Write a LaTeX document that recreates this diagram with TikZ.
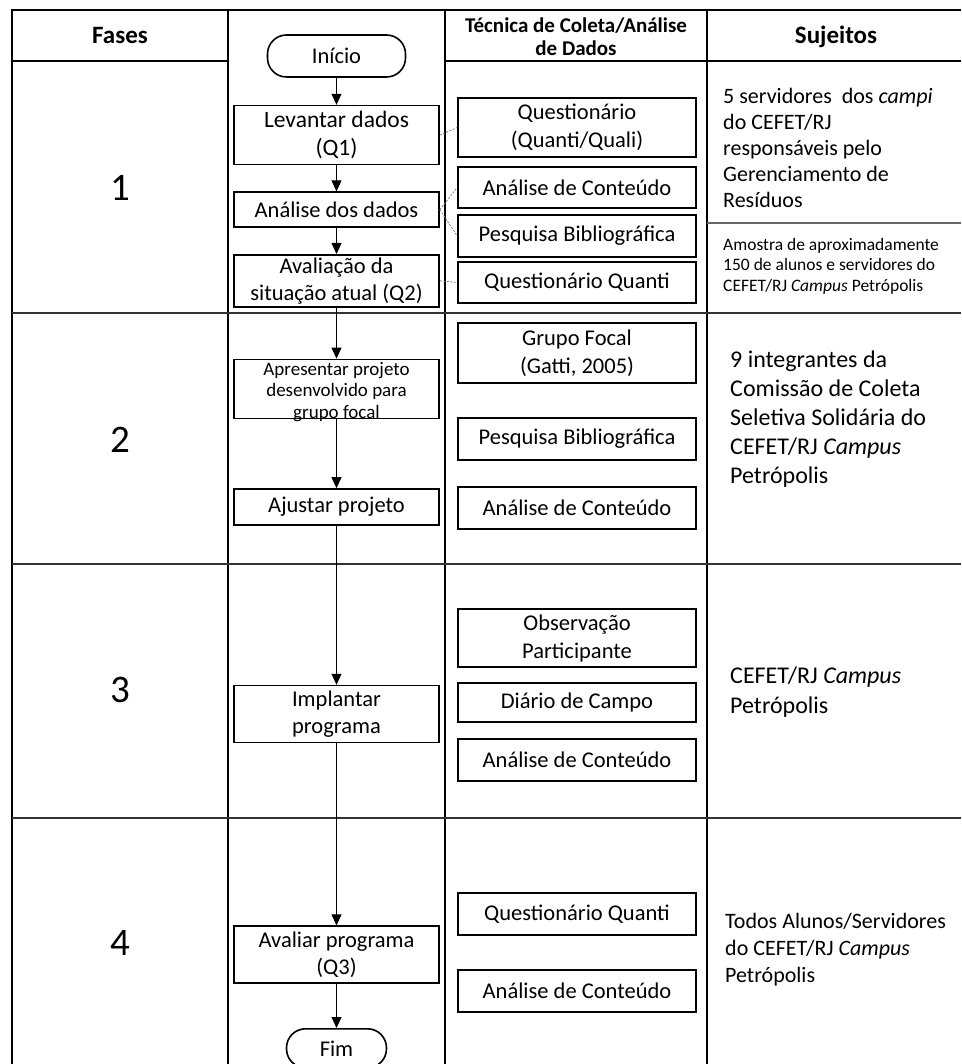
\documentclass[tikz,border=0pt]{standalone}
\usepackage{fontspec}
\setmainfont{Carlito}
\usetikzlibrary{positioning,arrows.meta}

\begin{document}
\begin{tikzpicture}[x=1pt,y=-1pt,>={Triangle[length=11pt,width=10pt]},
	flowbox/.style={shape=rectangle,draw,line width=1.6pt,inner sep=0pt,minimum width=205pt,align=center,font=\fontsize{22.5}{27}\selectfont},
	termbox/.style={flowbox,rounded corners=19pt},
	techbox/.style={shape=rectangle,draw,line width=1.6pt,inner sep=0pt,minimum width=238pt,align=center,font=\fontsize{22.5}{28}\selectfont},
	subj/.style={anchor=west,align=left,inner sep=0pt},
	head/.style={font=\bfseries\fontsize{25}{30}\selectfont},
	phasenum/.style={font=\fontsize{39}{44}\selectfont},
	gridline/.style={line width=2pt},
	phaseline/.style={line width=1.5pt,black!80},
	link/.style={gray,line width=0.8pt,dash pattern=on 2pt off 1.5pt},
	flow/.style={->,line width=0.8pt}]

	\useasboundingbox (0,0) rectangle (961,1064);

	% table lines
	\draw[gridline] (961,10) -- (12,10) -- (12,1064);
	\draw[gridline] (12,61) -- (228,61);
	\draw[gridline] (445,61) -- (961,61);
	\foreach \cx in {228,445,707} \draw[gridline] (\cx,10) -- (\cx,1064);
	\foreach \ry in {313,564,818} \draw[phaseline] (12,\ry) -- (961,\ry);
	\draw[phaseline,black!60] (707,223) -- (961,223);

	% header and phases
	\node (hFas) [head] at (120,35) {Fases};
	\node (hTec) [head,font=\bfseries\fontsize{21}{23}\selectfont,align=center] at (576,37) {Técnica de Coleta/Análise\\de Dados};
	\node (hSuj) [head] at (836,37) {Sujeitos};
	\node (f1) [phasenum] at (120,188) {1};
	\node (f2) [phasenum] at (120,440) {2};
	\node (f3) [phasenum] at (120,690) {3};
	\node (f4) [phasenum] at (120,943) {4};

	% create flow steps
	\node (ini) [termbox,minimum width=138pt,minimum height=42pt] at (336.5,56) {Início};
	\node (lev) [flowbox,minimum height=59pt,below = 27pt of ini,font=\fontsize{23.5}{28}\selectfont] {Levantar dados\\(Q1)};
	\node (ana) [flowbox,minimum height=35pt,below = 26pt of lev] {Análise dos dados};
	\node (ava) [flowbox,minimum height=52pt,below = 26pt of ana] {Avaliação da\\situação atual (Q2)};
	\node (apr) [flowbox,minimum height=59pt,below = 51pt of ava] {};
	\node (aprT) [font=\fontsize{19}{21.5}\selectfont,align=center,inner sep=0pt] at ([yshift=-3pt]apr.center) {Apresentar projeto\\desenvolvido para\\grupo focal};
	\node (ajs) [flowbox,minimum height=36pt,below = 69pt of apr] {Ajustar projeto};
	\node (imp) [flowbox,minimum height=57pt,below = 159pt of ajs] {Implantar\\programa};
	\node (avp) [flowbox,minimum height=57pt,below = 182pt of imp] {Avaliar programa\\(Q3)};
	\node (fim) [termbox,minimum width=100pt,minimum height=39pt,below = 44pt of avp] {Fim};

	% create techniques
	\node (qst) [techbox,minimum height=59pt] at (577,127.5) {Questionário\\(Quanti/Quali)};
	\node (ac1) [techbox,minimum height=41pt] at (577,187.5) {Análise de Conteúdo};
	\node (pb1) [techbox,minimum height=42pt] at (577,236) {Pesquisa Bibliográfica};
	\node (qq1) [techbox,minimum height=41pt] at (577,282.5) {Questionário Quanti};
	\node (gfo) [techbox,minimum height=60pt] at (577,353) {Grupo Focal\\(Gatti, 2005)};
	\node (pb2) [techbox,minimum height=42pt] at (577,439) {Pesquisa Bibliográfica};
	\node (ac2) [techbox,minimum height=42pt] at (577,508) {Análise de Conteúdo};
	\node (obs) [techbox,minimum height=58pt] at (577,638) {Observação\\Participante};
	\node (dia) [techbox,minimum height=39pt] at (577,702.5) {Diário de Campo};
	\node (ac3) [techbox,minimum height=42pt] at (577,760) {Análise de Conteúdo};
	\node (qq4) [techbox,minimum height=42pt] at (577,914) {Questionário Quanti};
	\node (ac4) [techbox,minimum height=42pt] at (577,991) {Análise de Conteúdo};

	% subjects
	\node (s1a) [subj,font=\fontsize{22}{26}\selectfont] at (723,148) {5 servidores\ \ dos \textit{campi}\\do CEFET/RJ\\responsáveis pelo\\Gerenciamento de\\Resíduos};
	\node (s1b) [subj,font=\fontsize{17.5}{20.5}\selectfont] at (723,266) {Amostra de aproximadamente\\150 de alunos e servidores do\\CEFET/RJ \textit{Campus} Petrópolis};
	\node (s2) [subj,font=\fontsize{24}{29}\selectfont] at (730,419) {9 integrantes da\\Comissão de Coleta\\Seletiva Solidária do\\CEFET/RJ \textit{Campus}\\Petrópolis};
	\node (s3) [subj,font=\fontsize{24}{30}\selectfont] at (730,692) {CEFET/RJ \textit{Campus}\\Petrópolis};
	\node (s4) [subj,font=\fontsize{22}{27}\selectfont] at (725,950) {Todos Alunos/Servidores\\do CEFET/RJ \textit{Campus}\\Petrópolis};

	% sequence of the steps
	\draw[flow] (ini) -- (lev);
	\draw[flow] (lev) -- (ana);
	\draw[flow] (ana) -- (ava);
	\draw[flow] (ava) -- (apr);
	\draw[flow] (apr) -- (ajs);
	\draw[flow] (ajs) -- (imp);
	\draw[flow] (imp) -- (avp);
	\draw[flow] (avp) -- (fim);

	% steps linked to techniques
	\draw[link] (lev.east) -- (qst.west);
	\draw[link] (ana.east) -- (ac1.west);
	\draw[link] (ana.east) -- (pb1.west);
	\draw[link] (ava.east) -- (qq1.west);

\end{tikzpicture}
\end{document}
